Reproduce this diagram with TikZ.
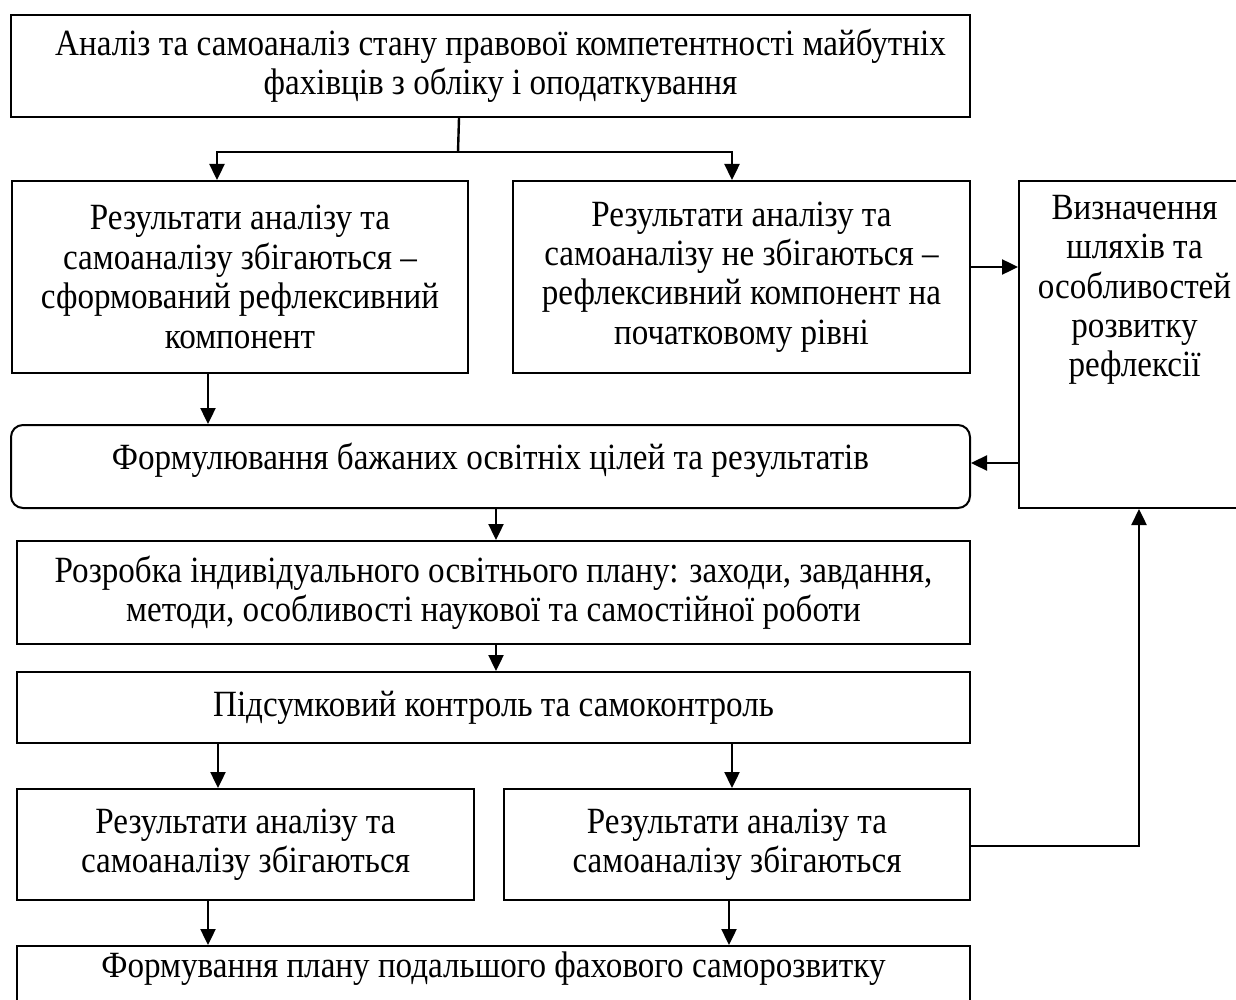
\documentclass[tikz,border=0pt]{standalone}
\usepackage{fontspec}
\setmainfont{Liberation Serif}[FakeStretch=0.895]
\usetikzlibrary{arrows.meta}
\begin{document}
\begin{tikzpicture}[x=0.5pt,y=-0.5pt,
  font=\fontsize{18.5}{19.7}\selectfont,
  box/.style={draw, line width=1pt, align=center, inner sep=0pt},
  arr/.style={line width=1.2pt, -{Triangle[length=8pt,width=7.5pt]}},
  ln/.style={line width=1.2pt}]
\path[use as bounding box, fill=white] (0,0) rectangle (1236,1000);

\node[box, minimum width=479.5pt, minimum height=51pt,
  label={[align=center, xshift=5pt]center:{Аналіз та самоаналіз стану правової компетентності майбутніх\\фахівців з обліку і оподаткування}}] (A) at (490.5,66) {};
\node[box, minimum width=228pt, minimum height=96pt] (B) at (240,277)
  {Результати аналізу та\\самоаналізу збігаються –\\сформований рефлексивний\\компонент};
\node[box, minimum width=228.5pt, minimum height=96pt] (C) at (741.5,277)
  {Результати аналізу та\\самоаналізу не збігаються –\\рефлексивний компонент на\\початковому рівні};
\node[box, minimum width=115.5pt, minimum height=163.5pt,
  label={[align=center, yshift=27.25pt]center:{Визначення\\шляхів та\\особливостей\\розвитку\\рефлексії}}] (D) at (1134.5,344.5) {};
\node[box, rounded corners=6pt, minimum width=479.5pt, minimum height=41.5pt,
  label={[yshift=3pt]center:{Формулювання бажаних освітніх цілей та результатів}}] (E) at (490.5,466.5) {};
\node[box, minimum width=476.5pt, minimum height=51.5pt] (F) at (493.5,592.5)
  {Розробка індивідуального освітнього плану: заходи, завдання,\\методи, особливості наукової та самостійної роботи};
\node[box, minimum width=476.5pt, minimum height=35.5pt] (G) at (493.5,707.5)
  {Підсумковий контроль та самоконтроль};
\node[box, minimum width=228.5pt, minimum height=55.5pt] (H1) at (245.5,844.5)
  {Результати аналізу та\\самоаналізу збігаються};
\node[box, minimum width=233pt, minimum height=55.5pt] (H2) at (737,844.5)
  {Результати аналізу та\\самоаналізу збігаються};
\node[box, minimum width=476.5pt, minimum height=33pt,
  label={[yshift=5pt]center:{Формування плану подальшого фахового саморозвитку}}] (I) at (493.5,979) {};

\coordinate (a1) at (459,0);
\coordinate (j) at (458,152);
\coordinate (b1) at (217,0);
\coordinate (c1) at (732,0);
\coordinate (d1) at (0,267);
\coordinate (e1) at (208,0);
\coordinate (e2) at (0,463);
\coordinate (f1) at (496,0);
\coordinate (g1) at (218,0);
\coordinate (h2) at (729,0);
\coordinate (k) at (1139,846);

\draw[ln] (A.south -| a1) -- (j);
\draw[arr] (j) -| (B.north -| b1);
\draw[arr] (j) -| (C.north -| c1);
\draw[arr] (C.east |- d1) -- (D.west |- d1);
\draw[arr] (B.south -| e1) -- (E.north -| e1);
\draw[arr] (D.west |- e2) -- (E.east |- e2);
\draw[arr] (E.south -| f1) -- (F.north -| f1);
\draw[arr] (F.south -| f1) -- (G.north -| f1);
\draw[arr] (G.south -| g1) -- (H1.north -| g1);
\draw[arr] (G.south -| c1) -- (H2.north -| c1);
\draw[arr] (H1.south -| e1) -- (I.north -| e1);
\draw[arr] (H2.south -| h2) -- (I.north -| h2);
\draw[arr] (H2.east |- k) -| (D.south -| k);
\end{tikzpicture}
\end{document}
